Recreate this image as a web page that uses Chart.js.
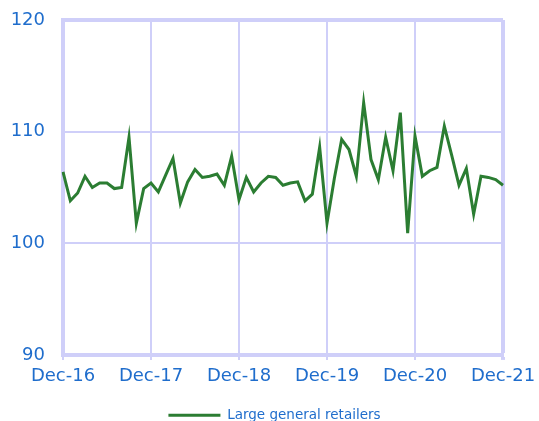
<!DOCTYPE html>
<html>
<head>
<meta charset="utf-8">
<title>Large general retailers</title>
<script src="https://cdn.jsdelivr.net/npm/chart.js"></script>
<style>
  body { margin:0; background:#fff; }
  .wrap { width:539px; height:421px; }
</style>
</head>
<body>
<div class="wrap"><canvas id="chart"></canvas></div>
<script>
const months = [
  'Dec-16','Jan-17','Feb-17','Mar-17','Apr-17','May-17','Jun-17','Jul-17','Aug-17','Sep-17','Oct-17','Nov-17',
  'Dec-17','Jan-18','Feb-18','Mar-18','Apr-18','May-18','Jun-18','Jul-18','Aug-18','Sep-18','Oct-18','Nov-18',
  'Dec-18','Jan-19','Feb-19','Mar-19','Apr-19','May-19','Jun-19','Jul-19','Aug-19','Sep-19','Oct-19','Nov-19',
  'Dec-19','Jan-20','Feb-20','Mar-20','Apr-20','May-20','Jun-20','Jul-20','Aug-20','Sep-20','Oct-20','Nov-20',
  'Dec-20','Jan-21','Feb-21','Mar-21','Apr-21','May-21','Jun-21','Jul-21','Aug-21','Sep-21','Oct-21','Nov-21',
  'Dec-21'
];

const retailers = [
  106.4, 103.8, 104.5, 106.0, 105.0, 105.4, 105.4, 104.9, 105.0, 109.5, 101.8, 104.9,
  105.4, 104.6, 106.1, 107.6, 103.6, 105.5, 106.6, 105.9, 106.0, 106.2, 105.2, 107.8,
  103.9, 105.9, 104.6, 105.4, 106.0, 105.9, 105.2, 105.4, 105.5, 103.8, 104.4, 108.6,
  101.8, 105.8, 109.3, 108.4, 106.0, 112.6, 107.5, 105.7, 109.5, 106.5, 111.7, 100.9,
  109.6, 106.0, 106.5, 106.8, 110.5, 107.9, 105.2, 106.7, 102.6, 106.0, 105.9, 105.7,
  105.2
];

const yTicks = [90, 100, 110, 120];

const blue = '#1f6dcc';
const gridCol = '#cfcff9';
const green = '#2b7d32';

new Chart(document.getElementById('chart'), {
  type: 'line',
  data: {
    labels: months,
    datasets: [{
      label: 'Large general retailers',
      data: retailers,
      borderColor: green,
      backgroundColor: green,
      borderWidth: 3,
      pointRadius: 0,
      tension: 0
    }]
  },
  options: {
    responsive: true,
    maintainAspectRatio: false,
    animation: false,
    layout: { padding: { left: 10, right: 0, top: 1, bottom: -11 } },
    scales: {
      x: {
        afterFit: axis => {
          axis.height += 3;
          axis.paddingRight = 36;
        },
        ticks: {
          autoSkip: false,
          maxRotation: 0,
          color: blue,
          font: { family: 'DejaVu Sans', size: 18 },
          padding: 6,
          // non-Dec ticks return null, which also hides their grid line
          callback: (v, i) => months[i].startsWith('Dec') ? months[i] : null
        },
        grid: {
          color: gridCol,
          lineWidth: ctx => ctx.tick && ctx.tick.label === 'Dec-21' ? 4 : 2,
          tickLength: 5
        },
        border: { color: gridCol, width: 4 }
      },
      y: {
        min: yTicks[0],
        max: yTicks[yTicks.length - 1],
        afterBuildTicks: axis => { axis.ticks = yTicks.map(v => ({ value: v })); },
        afterFit: axis => {
          axis.width = 53;
          axis.paddingTop = 20;
          axis.paddingBottom = 9;
        },
        ticks: {
          color: blue,
          font: { family: 'DejaVu Sans', size: 18 },
          padding: 18
        },
        grid: {
          color: gridCol,
          lineWidth: ctx => ctx.tick && ctx.tick.value === 120 ? 4 : 2,
          drawTicks: false
        },
        border: { color: gridCol, width: 4 }
      }
    },
    plugins: {
      legend: {
        position: 'bottom',
        labels: {
          color: blue,
          font: { family: 'DejaVu Sans', size: 13.5 },
          usePointStyle: true,
          pointStyle: 'line',
          pointStyleWidth: 52,
          padding: 12
        }
      },
      tooltip: { enabled: false }
    }
  }
});
</script>
</body>
</html>
